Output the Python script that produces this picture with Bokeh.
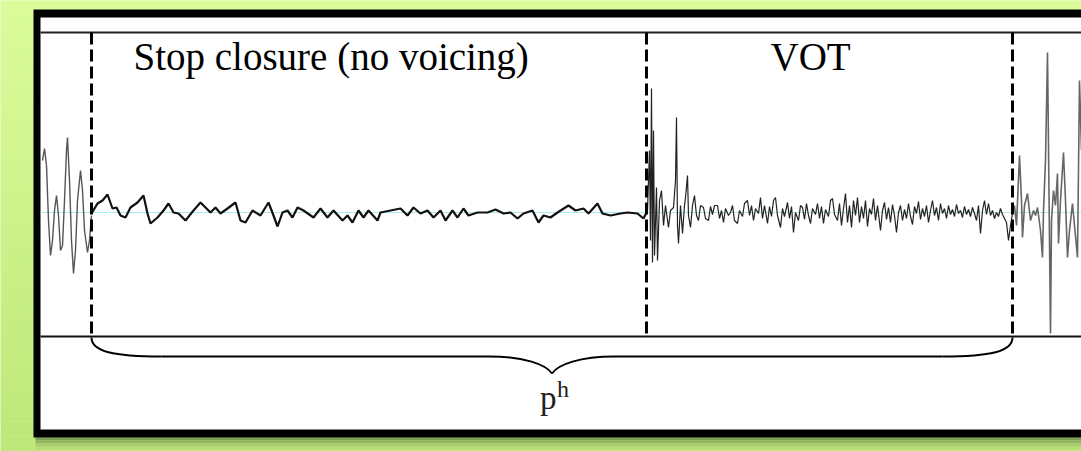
import numpy as np
from bokeh.plotting import figure
from bokeh.models import Range1d
from bokeh.core.properties import value
from bokeh.embed import file_html
from bokeh.resources import INLINE

# ---- data: time (samples, 0 = closure onset) and amplitude (arbitrary units) ----
pre_t = [-49, -47, -45, -43, -41, -39, -37, -35, -33, -31, -29, -27, -25, -24, -22,
         -20, -18, -16, -14, -11, -9, -7, -4, -2, 0]
pre_a = [52, 64, 47, -8, -43, -28, 2, 17, -3, -38, -33, 12, 62, 75, 32,
         -28, -61, -38, 12, 42, 22, -18, -40, -28, -3]

clo_t = [0, 6, 11, 16, 21, 25, 29, 34, 39, 46, 52, 56, 59, 66, 72, 77, 82, 87, 94,
         102, 109, 114, 119, 124, 129, 136, 144, 149, 154, 161, 169, 177, 182, 186,
         191, 196, 201, 206, 212, 222, 229, 236, 242, 251, 256, 261, 267, 272, 277,
         286, 289, 299, 309, 316, 322, 329, 336, 342, 349, 354, 361, 366, 372, 377,
         386, 396, 404, 412, 419, 426, 432, 441, 447, 452, 459, 466, 477, 484, 492,
         497, 506, 511, 519, 529, 536, 546, 552, 555]
clo_a = [-1, 9, 12, 18, 4, 5, -3, -5, 5, 10, 17, -1, -11, -5, 2, 9, 0, -1, -8,
         2, 10, 5, 0, 5, -1, 4, 10, -8, -10, 2, -3, 10, -3, -14,
         0, 2, -5, 5, 2, -5, 4, -5, 2, -8, -3, -10, 2, -5, 2,
         -8, 0, 2, 4, -3, 5, -1, 2, -5, 2, -8, 2, -5, 4, -3,
         0, 0, 3, -1, 0, -6, -1, 2, -10, -3, -5, 0, 7, 2, 4,
         -1, 9, -1, -3, -1, 0, -1, -6, 0]

vot_t = [555, 556, 558, 559, 560, 561, 562, 563, 565, 566, 568, 570, 572, 574, 577,
         579, 582, 584, 585, 586, 587, 589, 591, 593, 594, 596, 597, 599, 601, 603,
         605, 607, 609, 612, 614, 617, 619, 621, 623, 626, 628, 630, 632, 634, 637,
         639, 641, 643, 646, 648, 651, 653, 656, 658, 660, 662, 664, 667, 669, 671,
         673, 676, 678, 680, 682, 684, 686, 689, 691, 693, 696, 698, 700, 702, 704,
         707, 709, 711, 713, 715, 717, 719, 721, 724, 726, 728, 730, 732, 734, 737,
         739, 741, 743, 746, 748, 750, 752, 754, 756, 758, 760, 762, 764, 766, 768,
         770, 772, 774, 776, 778, 780, 782, 784, 786, 789, 791, 793, 795, 797, 799,
         801, 803, 805, 807, 809, 811, 813, 815, 817, 819, 821, 823, 825, 827, 829,
         831, 833, 835, 837, 839, 841, 843, 845, 847, 849, 851, 853, 855, 857, 859,
         861, 863, 865, 867, 869, 871, 873, 875, 877, 879, 881, 883, 885, 887, 889,
         891, 893, 895, 897, 899, 901, 903, 905, 907, 909, 911, 913, 915, 917, 919, 921]
vot_a = [0, 2, 62, -28, 124, -50, 82, -43, 25, -48, 12, 22, -13, 7, -15,
         2, 5, 32, 95, -13, -31, 7, -21, 7, 15, 37, -3, -15, 7, 17,
         -3, -8, 7, 5, -6, -8, 6, -2, 7, 7, -6, 2, -10, 4, -3,
         0, 7, -8, -11, 2, -4, 9, 12, -3, 7, -8, 4, -1, 15, -6,
         7, -11, 6, -4, 12, 15, -3, -15, 4, -4, 10, -6, 6, -20, 0,
         -8, 7, 5, -7, 9, -3, -11, 4, -2, 9, -6, 6, -11, 3, -4,
         12, 14, -2, -8, 9, -13, 4, 19, -10, 7, -15, 12, -3, 15, -10,
         6, -6, 12, -14, 4, -2, 14, -8, 7, -18, 2, 10, -7, 5, -10,
         8, -3, -20, 0, 7, -8, 3, -6, 9, -4, -12, 6, -1, 11, -7,
         4, -4, 7, -10, 2, 12, -3, 5, -8, 9, -1, 4, -6, 7, -2,
         3, -4, 8, -1, 2, -5, 6, -2, 3, -4, 5, -1, -8, 7, -21,
         2, 12, -2, 9, -3, 2, -6, 0, -4, 4, -2, -6, -10, -28, -13, -1]

vow_t = [921, 923, 925, 928, 930, 931, 933, 936, 939, 942, 944, 946, 949, 951, 952,
         954, 956, 959, 960, 962, 964, 966, 967, 969, 972, 974, 976, 978, 981, 983,
         986, 988, 990]
vow_a = [-1, 7, -13, 57, 12, -25, 7, 19, -8, 2, -3, 5, -18, -45, 2,
         52, 160, -121, -8, 22, 7, 39, -31, 12, 60, 12, -45, -18, 9, -13,
         -45, 132, 62]

boundaries = [0, 555, 921]
segment_labels = ["Stop closure (no voicing)", "VOT"]
segment_label_t = [42, 679]
brace_label = "p"
brace_label_sup = "h"

# ---- figure ----
W, H = 1081, 451
p = figure(width=W, height=H, x_range=Range1d(-91, 990), y_range=Range1d(-239, 212),
           output_backend="svg", toolbar_location=None, min_border=0)
p.axis.visible = False
p.grid.visible = False
p.outline_line_color = None
p.background_fill_color = "#d6f890"
p.border_fill_color = "#d6f890"

# background vertical gradient (light to darker green)
nb = 30
yb = np.linspace(212, -239, nb + 1)
c0 = np.array([0xdc, 0xfc, 0x9c])
c1 = np.array([0xbe, 0xe8, 0x7a])
cols = []
for i in range(nb):
    f = i / (nb - 1)
    c = (c0 * (1 - f) + c1 * f).astype(int)
    cols.append("#%02x%02x%02x" % tuple(c))
p.quad(left=-91, right=990, top=yb[:-1], bottom=yb[1:], fill_color=cols, line_color=None)

# shadow under frame
sh_top = [-225, -228, -231, -234]
sh_bot = [-228, -231, -234, -237]
sh_col = ["#7f9e56", "#93b662", "#a8cc6e", "#b6dc76"]
p.quad(left=-56, right=990, top=sh_top, bottom=sh_bot, fill_color=sh_col, line_color=None)

# frame
p.quad(left=-58, right=1000, top=203, bottom=-225, fill_color="black", line_color=None)
p.quad(left=-51, right=1000, top=195, bottom=-217, fill_color="white", line_color=None)

# horizontal rules
p.segment(x0=-51, y0=180, x1=1000, y1=180, line_color="#222222", line_width=2)
p.segment(x0=-51, y0=-124, x1=1000, y1=-124, line_color="#111111", line_width=2)

# baseline
p.line([-51, 990], [0, 0], line_color="#a8ecec", line_width=1)

# waveform
p.line(pre_t, pre_a, line_color="#555555", line_width=1.4)
p.line(clo_t, clo_a, line_color="#111111", line_width=2.2)
p.line(vot_t, vot_a, line_color="#222222", line_width=1.2)
p.line(vow_t, vow_a, line_color="#666666", line_width=1.6)

# dashed boundaries
for b in boundaries:
    p.line([b, b], [180, -124], line_color="black", line_width=3, line_dash="12 5")

# brace
b0, b2 = boundaries[0], boundaries[2]
mid = (b0 + b2) / 2
top, bar, tip = -125, -144, -161
p.bezier(x0=[b0, mid - 62, mid + 62, b2], y0=[top, bar, bar, top],
         x1=[b0 + 70, mid, mid, b2 - 70], y1=[bar, tip, tip, bar],
         cx0=[b0, mid - 28, mid + 28, b2], cy0=[top - 14, bar, bar, top - 14],
         cx1=[b0 + 22, mid - 6, mid + 6, b2 - 22], cy1=[bar, bar - 8, bar - 8, bar],
         line_color="black", line_width=2)
p.segment(x0=[b0 + 70, mid + 62], y0=[bar, bar], x1=[mid - 62, b2 - 70], y1=[bar, bar],
          line_color="black", line_width=2)

# texts
p.text(x=segment_label_t, y=[156, 156], text=segment_labels,
       text_font=value("Liberation Serif"), text_font_size="39px",
       text_color="#000000", text_baseline="alphabetic", text_align="left")
p.text(x=[mid - 12], y=[-185], text=[brace_label], text_font=value("Liberation Serif"),
       text_font_size="33px", text_color="#222222", text_baseline="alphabetic",
       text_align="left")
p.text(x=[mid + 5], y=[-176], text=[brace_label_sup], text_font=value("Liberation Serif"),
       text_font_size="24px", text_color="#222222", text_baseline="alphabetic",
       text_align="left")

open("out.html", "w").write(file_html(p, INLINE))
